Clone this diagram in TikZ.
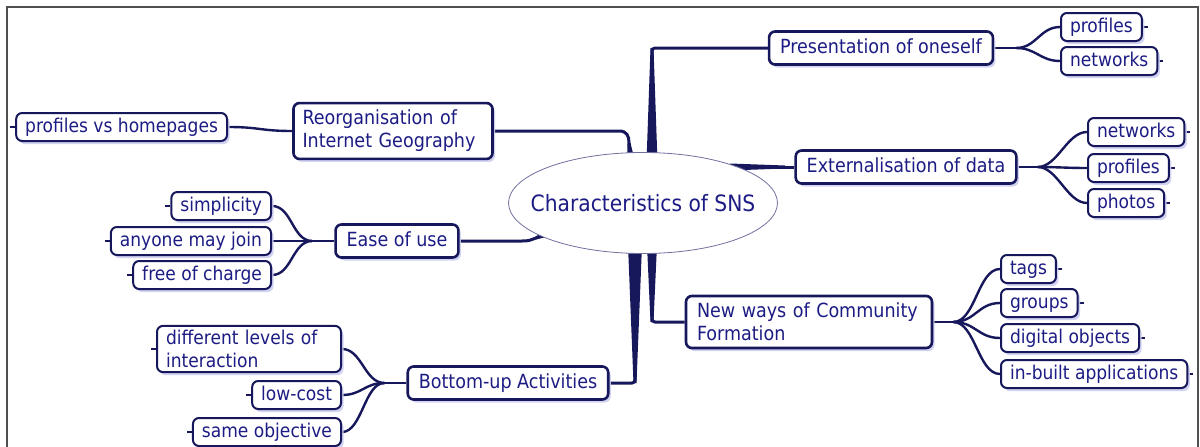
\documentclass[tikz,border=0pt]{standalone}
\usepackage{fontspec}
\setmainfont{DejaVu Sans Condensed}
\usepackage{tikz}
\usetikzlibrary{shapes.geometric, shadows, calc}
\definecolor{mapline}{HTML}{17175C}
\definecolor{maptext}{HTML}{1C1C84}
\definecolor{mapshade}{HTML}{CDCDF0}
\definecolor{rootline}{HTML}{7070A0}
\definecolor{framec}{HTML}{505050}
\pgfdeclarelayer{background}
\pgfsetlayers{background,main}
\newcommand{\taperline}[3]{%
  \fill[mapline] ($(#1)!1.5pt!90:(#2)$) -- ($(#2)!#3!-90:(#1)$) -- ($(#2)!#3!90:(#1)$) -- ($(#1)!1.5pt!-90:(#2)$) -- cycle;}

\begin{document}
\begin{tikzpicture}[x=1pt, y=-1pt,
				topic/.style={draw=mapline, line width=2.6pt, rounded corners=6pt, fill=white, text=maptext,
					font=\fontsize{19.5}{23}\selectfont, inner xsep=11pt, inner ysep=7pt,
					text height=14.5pt, text depth=4.5pt,
					drop shadow={shadow xshift=2.5pt, shadow yshift=-3pt, fill=mapshade, opacity=0.9}},
				twoline/.style={align=left, text height={}, text depth={}},
				leaf/.style={topic, line width=2pt, inner xsep=9pt, inner ysep=4.5pt, font=\fontsize{19}{22.5}\selectfont},
				branch/.style={draw=mapline, line width=3pt},
				twig/.style={draw=mapline, line width=2.4pt},
				stub/.style={draw=mapline, line width=1.2pt}]
				\useasboundingbox (0,0) rectangle (1200,447);
				\draw[framec, line width=1.6pt] (7,447) -- (7,7) -- (1198,7) -- (1198,447);

				\node at (643,203) (root) [ellipse, draw=rootline, line width=0.8pt, fill=white, inner xsep=-30pt, inner ysep=0pt,
					minimum width=269pt, minimum height=101pt, text=maptext, font=\fontsize{22.5}{25}\selectfont] {Characteristics of SNS};

				\node at (393,131) (reorg) [topic, twoline, inner xsep=9pt, text width=181pt] {Reorganisation of\\Internet Geography};
				\node at (881,48) (pres) [topic] {Presentation of oneself};
				\node at (906,167) (ext) [topic] {Externalisation of data};
				\node at (397,241) (ease) [topic] {Ease of use};
				\node at (508,383) (bottom) [topic] {Bottom-up Activities};
				\node at (809,322) (newways) [topic, twoline, text width=224pt] {New ways of Community\\Formation};

				\node at (228,127) (pvh) [leaf, anchor=east] {profiles vs homepages};
				\node at (1060,27) (presA) [leaf, anchor=west] {profiles};
				\node at (1060,61) (presB) [leaf, anchor=west] {networks};
				\node at (1087,132) (extA) [leaf, anchor=west] {networks};
				\node at (1087,168) (extB) [leaf, anchor=west] {profiles};
				\node at (1087,203) (extC) [leaf, anchor=west] {photos};
				\node at (272,206) (easeA) [leaf, anchor=east] {simplicity};
				\node at (272,241) (easeB) [leaf, anchor=east] {anyone may join};
				\node at (272,275) (easeC) [leaf, anchor=east] {free of charge};
				\node at (342,349) (botA) [leaf, twoline, text width=166pt, anchor=east] {different levels of\\interaction};
				\node at (342,395) (botB) [leaf, anchor=east] {low-cost};
				\node at (342,432) (botC) [leaf, anchor=east] {same objective};
				\node at (1000,269) (newA) [leaf, anchor=west] {tags};
				\node at (1000,303) (newB) [leaf, anchor=west] {groups};
				\node at (1000,338) (newC) [leaf, anchor=west] {digital objects};
				\node at (1000,374) (newD) [leaf, anchor=west] {in-built applications};

				\begin{pgfonlayer}{background}
				% main branches
				\coordinate (kPres) at (652,48);
				\coordinate (rPres) at (652,162);
				\taperline{kPres}{rPres}{5.5pt}
				\draw[branch, rounded corners=3pt] (rPres) -- (kPres) -- (pres.west);

				\coordinate (kReorg) at (619,131);
				\coordinate (jReorg) at (629,143);
				\coordinate (rReorg) at (631,162);
				\draw[branch] (reorg.east) -- (kReorg) .. controls +(8,0) and +(0,-7) .. (jReorg) -- (rReorg);
				\taperline{jReorg}{rReorg}{4pt}

				\coordinate (kExt) at (785,167);
				\coordinate (rExt) at (730,167);
				\taperline{kExt}{rExt}{3.5pt}
				\draw[branch] (rExt) -- (ext.west);

				\coordinate (kEase) at (522,241);
				\coordinate (jEase) at (536,238);
				\coordinate (rEase) at (553,231);
				\draw[branch] (ease.east) -- (kEase) .. controls +(8,0) and +(-6,2) .. (jEase) -- (rEase);
				\taperline{jEase}{rEase}{4pt}

				\coordinate (kBot) at (635,383);
				\coordinate (rBot) at (635,245);
				\taperline{kBot}{rBot}{7pt}
				\draw[branch, rounded corners=3pt] (bottom.east) -- (kBot) -- (rBot);

				\coordinate (kNew) at (652,322);
				\coordinate (rNew) at (652,245);
				\taperline{kNew}{rNew}{5pt}
				\draw[branch, rounded corners=3pt] (rNew) -- (kNew) -- (newways.west);

				% forks to the leaves
				\draw[twig] (reorg.west) .. controls +(-32,0) and +(32,0) .. (pvh.east);
				\draw[stub] (pvh.west) -- ++(-5,0);

				\coordinate (fPres) at ($(pres.east)+(22,0)$);
				\draw[twig] (pres.east) -- (fPres);
				\foreach \l in {presA, presB} {
					\draw[twig] (fPres) .. controls +(20,0) and +(-20,0) .. (\l.west);
					\draw[stub] (\l.east) -- ++(5,0);
				}

				\coordinate (fExt) at ($(ext.east)+(20,0)$);
				\draw[twig] (ext.east) -- (fExt);
				\foreach \l in {extA, extB, extC} {
					\draw[twig] (fExt) .. controls +(20,0) and +(-20,0) .. (\l.west);
					\draw[stub] (\l.east) -- ++(5,0);
				}

				\coordinate (fNew) at ($(newways.east)+(20,0)$);
				\draw[twig] (newways.east) -- (fNew);
				\foreach \l in {newA, newB, newC, newD} {
					\draw[twig] (fNew) .. controls +(22,0) and +(-22,0) .. (\l.west);
					\draw[stub] (\l.east) -- ++(5,0);
				}

				\coordinate (fEase) at ($(ease.west)+(-22,0)$);
				\draw[twig] (ease.west) -- (fEase);
				\foreach \l in {easeA, easeB, easeC} {
					\draw[twig] (fEase) .. controls +(-20,0) and +(20,0) .. (\l.east);
					\draw[stub] (\l.west) -- ++(-5,0);
				}

				\coordinate (fBot) at ($(bottom.west)+(-22,0)$);
				\draw[twig] (bottom.west) -- (fBot);
				\foreach \l in {botA, botB, botC} {
					\draw[twig] (fBot) .. controls +(-20,0) and +(20,0) .. (\l.east);
					\draw[stub] (\l.west) -- ++(-5,0);
				}
				\end{pgfonlayer}
			\end{tikzpicture}
\end{document}
